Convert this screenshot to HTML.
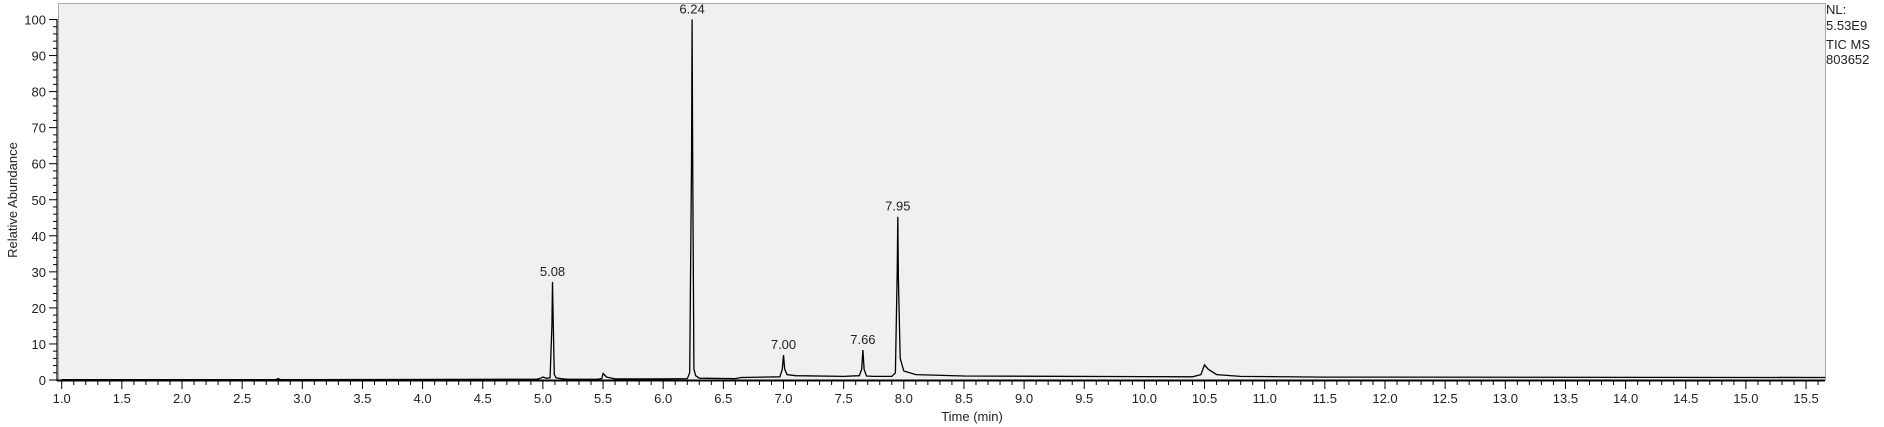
<!DOCTYPE html>
<html><head><meta charset="utf-8"><style>
html,body{margin:0;padding:0;background:#fff;}
svg{display:block;font-family:"Liberation Sans",Arial,sans-serif;}
</style></head><body>
<svg id="chart" width="1884" height="427" xmlns="http://www.w3.org/2000/svg">
<rect x="58.5" y="3.5" width="1767" height="377" fill="#f0f0f0" stroke="#aaa" stroke-width="1"/>
<g id="axes"></g>
<g id="trace"></g>
<g id="labels"></g>
<text transform="translate(17,200) rotate(-90)" text-anchor="middle" font-size="13" fill="#222">Relative Abundance</text>
<text x="972" y="421" text-anchor="middle" font-size="13" fill="#222">Time (min)</text>
<g font-size="13" fill="#222">
<text x="1826" y="14">NL:</text>
<text x="1826" y="30">5.53E9</text>
<text x="1826" y="49">TIC  MS</text>
<text x="1826" y="64">803652</text>
</g>
</svg>
<script>
const times=[1.0,2.78,2.8,2.82,4.95,4.98,5.0,5.03,5.06,5.075,5.08,5.085,5.095,5.11,5.15,5.2,5.45,5.49,5.5,5.53,5.6,6.0,6.2,6.22,6.235,6.24,6.245,6.255,6.27,6.3,6.6,6.65,6.97,6.99,7.0,7.01,7.03,7.1,7.5,7.63,7.65,7.66,7.67,7.69,7.75,7.9,7.93,7.945,7.95,7.955,7.97,8.0,8.1,8.5,10.4,10.47,10.5,10.53,10.6,10.8,11.5,15.66];
const values=[0.1,0.1,0.4,0.1,0.2,0.5,0.8,0.5,0.6,15,27.2,18,1.5,0.6,0.4,0.2,0.2,0.4,1.8,0.8,0.3,0.3,0.4,2,60,100,60,3,1.2,0.5,0.4,0.7,0.9,3,6.9,3,1.5,1.2,1.0,1.2,3,8.3,3,1.1,1.0,1.0,2,30,45.3,28,6,2.5,1.5,1.1,0.9,1.5,4.2,3,1.5,1.0,0.8,0.7];
const peakLabels=["5.08","6.24","7.00","7.66","7.95"];
const peakTimes=[5.08,6.24,7.00,7.66,7.95];
const peakValues=[27.2,100,6.9,8.3,45.3];
const yTicks=[0,10,20,30,40,50,60,70,80,90,100];
const xMin=1.0,xMax=15.66,yMax=100;
const X=t=>61.7+(t-xMin)*120.3;
const Y=v=>380-v*3.605;
const NS="http://www.w3.org/2000/svg";
function mk(tag,attrs,parent){const e=document.createElementNS(NS,tag);for(const k in attrs)e.setAttribute(k,attrs[k]);parent.appendChild(e);return e;}
const axes=document.getElementById('axes');
// y axis
let yl=mk('line',{x1:57,y1:19,x2:57,y2:381,stroke:'#000','stroke-width':1.2},axes);


for(let v=0;v<=100;v+=2){const maj=v%10===0;mk('line',{x1:maj?49:53,y1:Y(v),x2:57,y2:Y(v),stroke:'#000','stroke-width':1},axes);}
yTicks.forEach(v=>{const t=mk('text',{x:46,y:Y(v)+5,'text-anchor':'end','font-size':13,fill:'#222'},axes);t.textContent=String(v);

});
// x axis
let xl=mk('line',{x1:57,y1:380.5,x2:1825,y2:380.5,stroke:'#000','stroke-width':2},axes);


for(let i=0;i<=146;i++){const t=1+i*0.1;const maj=i%5===0;mk('line',{x1:X(t),y1:381,x2:X(t),y2:maj?389:385,stroke:'#000','stroke-width':1},axes);
if(maj){const tx=mk('text',{x:X(t),y:403,'text-anchor':'middle','font-size':13,fill:'#222'},axes);tx.textContent=t.toFixed(1);

}}
// trace
const pts=times.map((t,i)=>X(t).toFixed(1)+','+Y(values[i]).toFixed(1)).join(' ');
const pl=mk('polyline',{points:pts,fill:'none',stroke:'#000','stroke-width':1.3},document.getElementById('trace'));


// peak labels
const lg=document.getElementById('labels');
peakLabels.forEach((s,i)=>{const t=mk('text',{x:X(peakTimes[i]),y:Y(peakValues[i])-6,'text-anchor':'middle','font-size':13,fill:'#222'},lg);t.textContent=s;

});
</script>
</body></html>
